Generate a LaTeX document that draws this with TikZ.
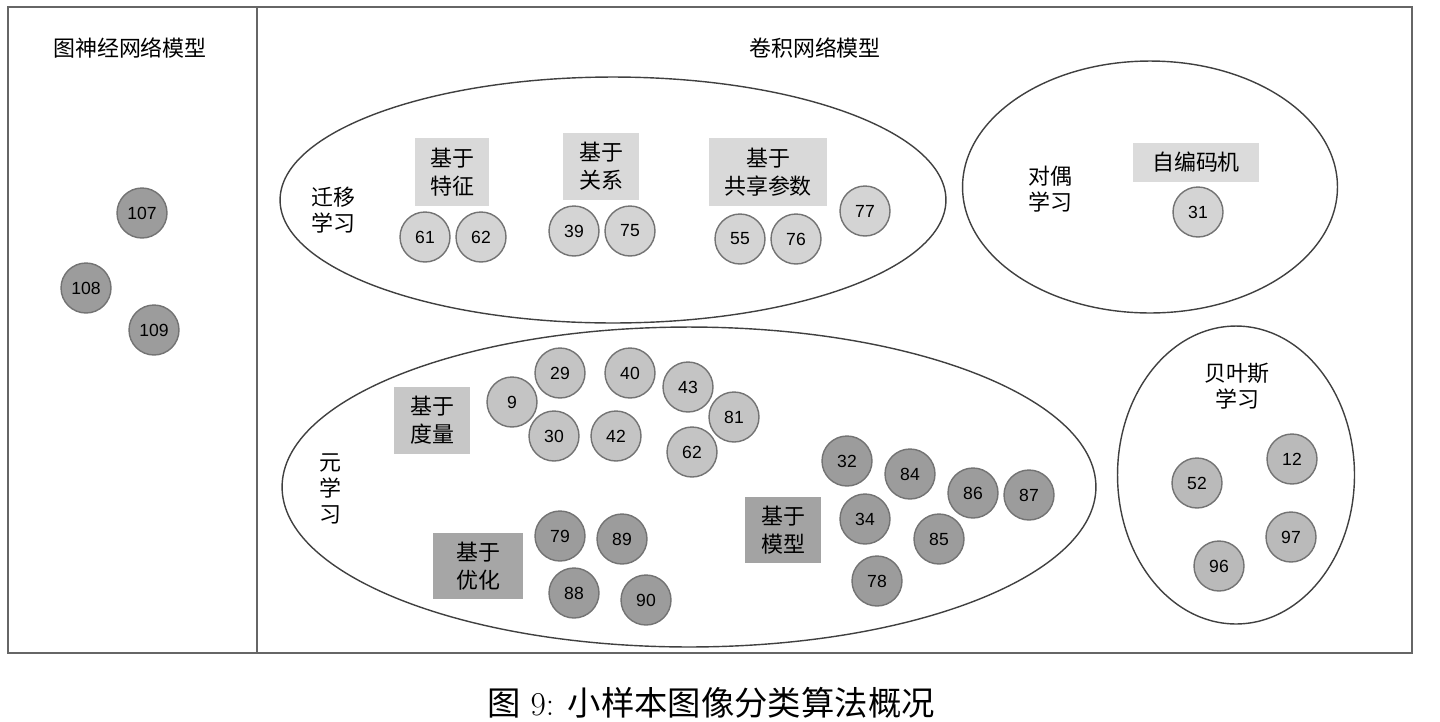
\documentclass[tikz,border=0pt]{standalone}
\usepackage{fontspec}
\newfontfamily\cjk{Noto Sans CJK SC}
\newfontfamily\numfont{Liberation Sans}
\usetikzlibrary{shapes.geometric}

\begin{document}
\begin{tikzpicture}[x=0.02cm, y=-0.02cm,
    ball/.style={circle, draw=black!55, line width=0.8pt, minimum size=1cm, inner sep=0pt,
                 font=\numfont\fontsize{10}{12}\selectfont},
    lightball/.style={ball, fill=black!17},
    metricball/.style={ball, fill=black!23},
    bayesball/.style={ball, fill=black!27},
    darkball/.style={ball, fill=black!39},
    tagbox/.style={inner sep=0pt, align=center, font=\cjk\fontsize{12.5}{16}\selectfont},
    grouptext/.style={inner sep=0pt, align=center, font=\cjk\fontsize{12.5}{15}\selectfont},
    group/.style={ellipse, draw=black!75, line width=0.8pt, inner sep=0pt}]
    \useasboundingbox (0,0) rectangle (1440,721);

    % Frame and divider
    \draw[black!60, line width=0.9pt] (8,7) rectangle (1412,653);
    \draw[black!60, line width=0.9pt] (257,7) -- (257,653);

    % Titles
    \node[grouptext] (gnn) at (130,48) {图神经网络模型};
    \node[grouptext] (cnn) at (815,48) {卷积网络模型};

    % Group ellipses
    \node[group, minimum width=13.32cm, minimum height=4.92cm] (transfer) at (613,200) {};
    \node[group, minimum width=7.5cm, minimum height=5.04cm] (dual) at (1150,187) {};
    \node[group, minimum width=16.28cm, minimum height=6.4cm] (meta) at (689,487) {};
    \node[group, minimum width=4.74cm, minimum height=5.96cm] (bayes) at (1236,475) {};

    % Group names
    \node[grouptext] (transfername) at (333,210) {迁移\\学习};
    \node[grouptext] (dualname) at (1050,189) {对偶\\学习};
    \node[grouptext, font=\cjk\fontsize{12.5}{14.7}\selectfont] (metaname) at (330,489) {元\\学\\习};
    \node[grouptext] (bayesname) at (1237,386) {贝叶斯\\学习};

    % Graph neural networks
    \node[darkball] (g107) at (142,213) {107};
    \node[darkball] (g108) at (86,288) {108};
    \node[darkball] (g109) at (154,330) {109};

    % Transfer learning
    \node[tagbox, fill=black!15, minimum width=1.5cm, minimum height=1.36cm] (feat) at (452,172) {基于\\特征};
    \node[tagbox, fill=black!15, minimum width=1.52cm, minimum height=1.34cm] (rel) at (601,166) {基于\\关系};
    \node[tagbox, fill=black!15, minimum width=2.38cm, minimum height=1.36cm] (share) at (768,172) {基于\\共享参数};
    \node[lightball] (t61) at (425,237) {61};
    \node[lightball] (t62) at (481,237) {62};
    \node[lightball] (t39) at (574,231) {39};
    \node[lightball] (t75) at (630,231) {75};
    \node[lightball] (t55) at (740,239) {55};
    \node[lightball] (t76) at (796,239) {76};
    \node[lightball] (t77) at (865,211) {77};

    % Dual learning
    \node[tagbox, fill=black!14, minimum width=2.52cm, minimum height=0.78cm] (ae) at (1196,162) {自编码机};
    \node[lightball] (d31) at (1198,212) {31};

    % Meta learning: metric
    \node[tagbox, fill=black!22, minimum width=1.54cm, minimum height=1.34cm] (metric) at (432,420) {基于\\度量};
    \node[metricball] (m9) at (512,402) {9};
    \node[metricball] (m29) at (560,373) {29};
    \node[metricball] (m40) at (630,373) {40};
    \node[metricball] (m43) at (688,387) {43};
    \node[metricball] (m81) at (734,417) {81};
    \node[metricball] (m30) at (554,436) {30};
    \node[metricball] (m42) at (616,436) {42};
    \node[metricball] (m62) at (692,452) {62};

    % Meta learning: optimization
    \node[tagbox, fill=black!35, minimum width=1.8cm, minimum height=1.32cm] (optim) at (478,566) {基于\\优化};
    \node[darkball] (o79) at (560,536) {79};
    \node[darkball] (o89) at (622,539) {89};
    \node[darkball] (o88) at (574,593) {88};
    \node[darkball] (o90) at (646,600) {90};

    % Meta learning: model
    \node[tagbox, fill=black!36, minimum width=1.52cm, minimum height=1.32cm] (model) at (783,530) {基于\\模型};
    \node[darkball] (mo32) at (847,461) {32};
    \node[darkball] (mo84) at (910,474) {84};
    \node[darkball] (mo86) at (973,493) {86};
    \node[darkball] (mo87) at (1029,495) {87};
    \node[darkball] (mo34) at (865,519) {34};
    \node[darkball] (mo85) at (939,539) {85};
    \node[darkball] (mo78) at (877,581) {78};

    % Bayesian learning
    \node[bayesball] (b52) at (1197,483) {52};
    \node[bayesball] (b12) at (1292,459) {12};
    \node[bayesball] (b97) at (1291,537) {97};
    \node[bayesball] (b96) at (1219,566) {96};

    % Caption
    \node[inner sep=0pt, font=\fontsize{19}{22}\selectfont] (caption) at (711,703)
        {{\cjk 图} 9: {\cjk 小样本图像分类算法概况}};
\end{tikzpicture}
\end{document}
